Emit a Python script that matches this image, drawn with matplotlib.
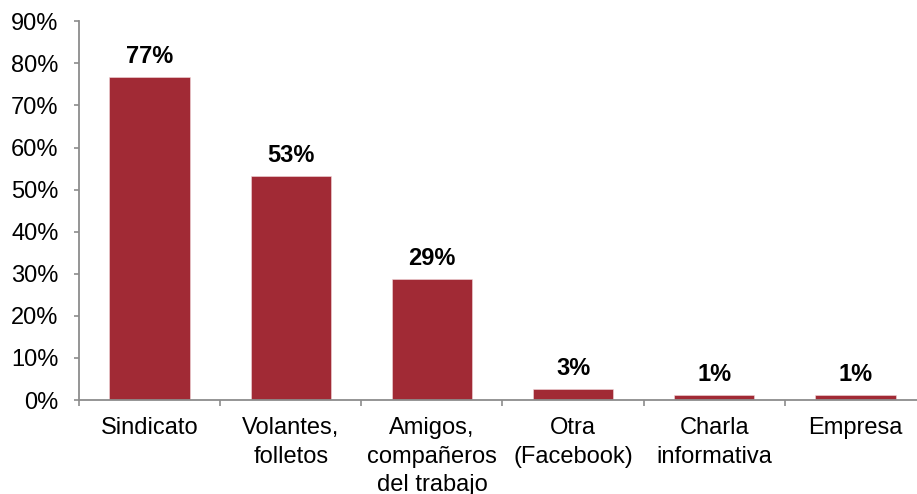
import numpy as np
import matplotlib
matplotlib.use("Agg")
import matplotlib.pyplot as plt
from matplotlib.ticker import FixedLocator, NullFormatter

# Medio por el que se enteraron (% de respuestas)
categories = ["Sindicato", "Volantes,\nfolletos", "Amigos,\ncompañeros\ndel trabajo",
              "Otra\n(Facebook)", "Charla\ninformativa", "Empresa"]
values = [76.7, 53.3, 28.7, 2.6, 1.3, 1.3]
yticks = [0, 10, 20, 30, 40, 50, 60, 70, 80, 90]

plt.rcParams["font.family"] = ["Liberation Sans", "DejaVu Sans"]

BAR = "#A12A35"
AXIS = "#8C8C8C"

W, H = 917, 494
fig = plt.figure(figsize=(W / 100, H / 100), dpi=100)
ax = fig.add_axes([79 / W, (H - 400) / H, (926 - 79) / W, (400 - 21.3) / H])

x = np.arange(len(categories))
ax.bar(x, values, width=0.57, color=BAR, edgecolor="#F2D9DC", linewidth=0.4, zorder=2)

for xi, v in zip(x, values):
    ax.annotate(f"{v:.0f}%", (xi, v), xytext=(0, 6.5), textcoords="offset points",
                ha="center", va="bottom", fontsize=17, fontweight="bold", color="black")

ax.set_xlim(-0.5, len(categories) - 0.5)
ax.set_ylim(0, 90)

ax.set_yticks(yticks)
ax.set_yticklabels([f"{t}%" for t in yticks])

# category labels centred under the bars, tick marks on the boundaries
ax.set_xticks(x)
ax.set_xticklabels(categories, linespacing=1.38)
ax.tick_params(axis="x", which="major", length=0, pad=12.5)
ax.xaxis.set_minor_locator(FixedLocator(np.arange(-0.5, len(categories), 1.0)))
ax.xaxis.set_minor_formatter(NullFormatter())
ax.tick_params(axis="x", which="minor", length=4.3, width=1.2, color=AXIS, direction="out")
ax.tick_params(axis="y", length=3.6, width=1.2, color=AXIS, direction="out", pad=11)
ax.tick_params(labelsize=17, labelcolor="black")

for side in ("top", "right"):
    ax.spines[side].set_visible(False)
for side in ("left", "bottom"):
    ax.spines[side].set_color(AXIS)
    ax.spines[side].set_linewidth(1.3)

fig.savefig("out.png", dpi=100)
